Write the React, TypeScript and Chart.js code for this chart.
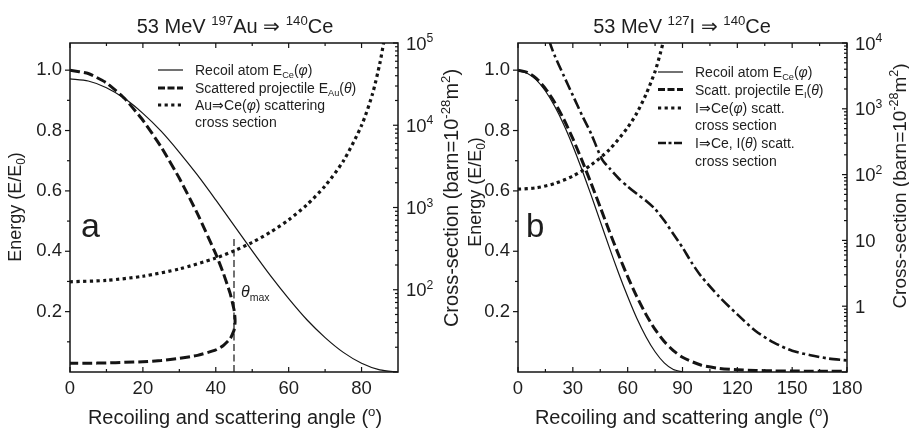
import React, { useEffect, useRef } from "react";
import { Chart, registerables } from "chart.js";

Chart.register(...registerables);

const FONT = '"Liberation Sans", Arial, Helvetica, sans-serif';
const INK = "#141414";
const TEXT = "#1e1e1e";

// ---------------- Panel a : 53 MeV 197Au => 140Ce ----------------
const aRecoilAngle = [0, 5, 10, 15, 20, 25, 30, 35, 40, 45, 50, 55, 60, 65, 70, 75, 80, 85, 90];
const aRecoilEnergy = [0.971, 0.964, 0.942, 0.906, 0.857, 0.798, 0.728, 0.652, 0.57, 0.486, 0.401, 0.319, 0.243, 0.173, 0.114, 0.065, 0.029, 0.007, 0];

const aProjAngle = [0, 5, 10, 15, 20, 25, 30, 35, 40, 42, 44, 45, 45.1, 45.25, 45.3, 45.25, 45.1, 45, 44, 42, 40, 35, 30, 25, 20, 15, 10, 5, 0];
const aProjEnergy = [1.0, 0.989, 0.958, 0.906, 0.834, 0.746, 0.642, 0.524, 0.391, 0.33, 0.258, 0.207, 0.199, 0.182, 0.169, 0.158, 0.144, 0.138, 0.111, 0.087, 0.073, 0.055, 0.045, 0.038, 0.034, 0.032, 0.03, 0.029, 0.029];

const aThetaMaxAngle = [45, 45];
const aThetaMaxEnergy = [0, 0.45];

const aXsecAngle = [0, 10, 20, 30, 40, 45, 50, 55, 60, 65, 70, 75, 80, 83, 85, 86, 87];
const aXsecValue = [125, 130, 146, 179, 243, 297, 377, 502, 707, 1080, 1830, 3670, 9950, 24000, 56000, 97000, 170000];

const aXMajor = [0, 20, 40, 60, 80];
const aXMinor = [10, 30, 50, 70];
const aXLabels = ["0", "20", "40", "60", "80"];
const aLogLabelValue = [100, 1000, 10000, 100000];
const aLogLabelBase = ["10", "10", "10", "10"];
const aLogLabelExp = ["2", "3", "4", "5"];

// ---------------- Panel b : 53 MeV 127I => 140Ce ----------------
const bRecoilAngle = [0, 5, 10, 15, 20, 25, 30, 35, 40, 45, 50, 55, 60, 65, 70, 75, 80, 85, 90];
const bRecoilEnergy = [0.998, 0.99, 0.968, 0.931, 0.881, 0.82, 0.749, 0.67, 0.586, 0.499, 0.412, 0.328, 0.25, 0.178, 0.117, 0.067, 0.03, 0.008, 0];

const bProjAngle = [0, 5, 10, 15, 20, 25, 30, 35, 40, 45, 50, 55, 60, 65, 70, 75, 80, 85, 90, 100, 110, 120, 130, 140, 150, 160, 170, 180];
const bProjEnergy = [1.0, 0.993, 0.973, 0.939, 0.894, 0.838, 0.773, 0.701, 0.625, 0.546, 0.466, 0.389, 0.316, 0.25, 0.191, 0.141, 0.101, 0.071, 0.049, 0.023, 0.012, 0.0075, 0.0051, 0.0038, 0.0031, 0.0027, 0.0024, 0.0024];

const bXsecAngle = [0, 10, 20, 30, 40, 50, 60, 65, 70, 75, 78, 80, 82];
const bXsecValue = [60, 63, 73, 95, 140, 240, 520, 860, 1650, 3700, 7200, 12000, 22000];

const bProjXsecAngle = [12, 14, 17.5, 20, 25, 30, 35, 40, 46, 50, 55, 60, 65, 70, 75, 80, 85, 90, 95, 100, 110, 120, 130, 140, 150, 160, 170, 180];
const bProjXsecValue = [45000, 25000, 10000, 6500, 3200, 1600, 800, 420, 170, 125, 88, 66, 51, 40, 30, 20, 12.5, 7.8, 4.6, 2.9, 1.4, 0.75, 0.42, 0.28, 0.21, 0.18, 0.16, 0.15];

const bXMajor = [0, 30, 60, 90, 120, 150, 180];
const bXMinor = [15, 45, 75, 105, 135, 165];
const bXLabels = ["0", "30", "60", "90", "120", "150", "180"];
const bLogLabelValue = [1, 10, 100, 1000, 10000];
const bLogLabelBase = ["1", "10", "10", "10", "10"];
const bLogLabelExp = ["", "", "2", "3", "4"];

// shared energy axis ticks
const eMajor = [0.2, 0.4, 0.6, 0.8, 1.0];
const eMinor = [0.1, 0.3, 0.5, 0.7, 0.9];
const eLabels = ["0.2", "0.4", "0.6", "0.8", "1.0"];

// ----------------------------------------------------------------
type Seg = [string, number]; // 0 normal, 1 sub, 2 sup, 3 italic, 4 italic sub

function drawRich(ctx: CanvasRenderingContext2D, segs: Seg[], x: number, y: number, size: number, align: string, rot = 0) {
  const small = size * 0.66;
  const items = segs.map(([t, m]) => {
    const fs = m === 1 || m === 2 || m === 4 ? small : size;
    const font = `${m === 3 || m === 4 ? "italic " : ""}${fs}px ${FONT}`;
    ctx.font = font;
    return { t, m, font, w: ctx.measureText(t).width };
  });
  const total = items.reduce((s, i) => s + i.w, 0);
  ctx.save();
  ctx.translate(x, y);
  if (rot) ctx.rotate(rot);
  ctx.fillStyle = TEXT;
  ctx.textBaseline = "alphabetic";
  ctx.textAlign = "left";
  let cx = align === "center" ? -total / 2 : align === "right" ? -total : 0;
  for (const it of items) {
    ctx.font = it.font;
    const dy = it.m === 1 || it.m === 4 ? size * 0.22 : it.m === 2 ? -size * 0.4 : 0;
    ctx.fillText(it.t, cx, dy);
    cx += it.w;
  }
  ctx.restore();
}

const STYLES: Record<string, { width: number; dash: number[] }> = {
  solid: { width: 1.2, dash: [] },
  dashed: { width: 3, dash: [10, 4] },
  dotted: { width: 3.2, dash: [3.2, 3.4] },
  dashdot: { width: 2.6, dash: [11, 3.5, 3, 3.5] },
  thin: { width: 1.2, dash: [7, 3.5] },
};

const pts = (xs: number[], ys: number[]) => xs.map((x, i) => ({ x, y: ys[i] }));

function ds(data: any[], style: string, axis: string, tension = 0.25) {
  const s = STYLES[style];
  return {
    data,
    yAxisID: axis,
    borderColor: INK,
    borderWidth: s.width,
    borderDash: s.dash,
    borderCapStyle: "butt",
    pointRadius: 0,
    fill: false,
    tension,
  };
}

interface LegendItem { y: number; style: string | null; segs: Seg[] }
interface PanelCfg {
  width: number;
  leftW: number;
  rightW: number;
  xMax: number;
  xStep: number;
  xMajor: number[];
  xMinor: number[];
  xLabels: string[];
  logMin: number;
  logMax: number;
  logLabelValue: number[];
  logLabelBase: string[];
  logLabelExp: string[];
  datasets: any[];
  title: Seg[];
  titleX: number;
  xTitleX: number;
  eTitle: { x: number; y: number; size: number };
  cTitle: { x: number; y: number; size: number };
  legendX: number;
  legend: LegendItem[];
  letter: { t: string; x: number; y: number; size: number };
  extra?: (ctx: CanvasRenderingContext2D, chart: any) => void;
}

function near(v: number, arr: number[]) {
  return arr.findIndex((a) => Math.abs(a - v) < 1e-6);
}

function makePlugin(cfg: PanelCfg) {
  return {
    id: "panelDeco",
    afterDatasetsDraw(chart: any) {
      const ctx: CanvasRenderingContext2D = chart.ctx;
      const ca = chart.chartArea;
      const sx = chart.scales.x;
      const sy = chart.scales.y;
      const sl = chart.scales.y2;
      ctx.save();
      ctx.setLineDash([]);
      ctx.strokeStyle = INK;
      ctx.lineWidth = 1.5;
      ctx.strokeRect(ca.left, ca.top, ca.right - ca.left, ca.bottom - ca.top);
      ctx.lineWidth = 1.2;
      const line = (x1: number, y1: number, x2: number, y2: number) => {
        ctx.beginPath();
        ctx.moveTo(x1, y1);
        ctx.lineTo(x2, y2);
        ctx.stroke();
      };
      cfg.xMajor.forEach((v) => {
        const p = sx.getPixelForValue(v);
        line(p, ca.bottom, p, ca.bottom - 5);
        line(p, ca.top, p, ca.top + 5);
      });
      cfg.xMinor.forEach((v) => {
        const p = sx.getPixelForValue(v);
        line(p, ca.bottom, p, ca.bottom - 3);
        line(p, ca.top, p, ca.top + 3);
      });
      eMajor.forEach((v) => {
        const p = sy.getPixelForValue(v);
        line(ca.left - 5, p, ca.left, p);
      });
      eMinor.forEach((v) => {
        const p = sy.getPixelForValue(v);
        line(ca.left - 3, p, ca.left, p);
      });
      for (let e = Math.floor(Math.log10(cfg.logMin)); e <= Math.ceil(Math.log10(cfg.logMax)); e++) {
        for (let k = 1; k <= 9; k++) {
          const v = k * Math.pow(10, e);
          if (v < cfg.logMin * 0.999 || v > cfg.logMax * 1.001) continue;
          const p = sl.getPixelForValue(v);
          line(ca.right, p, ca.right - (k === 1 ? 5 : 3), p);
        }
      }
      ctx.restore();

      cfg.logLabelValue.forEach((v, i) => {
        const p = sl.getPixelForValue(v);
        const segs: Seg[] = [[cfg.logLabelBase[i], 0]];
        if (cfg.logLabelExp[i]) segs.push([cfg.logLabelExp[i], 2]);
        drawRich(ctx, segs, ca.right + 8, p + 6.5, 18.5, "left");
      });

      drawRich(ctx, cfg.title, cfg.titleX, 33, 20, "center");
      drawRich(ctx, [["Recoiling and scattering angle (", 0], ["o", 2], [")", 0]], cfg.xTitleX, 424, 20, "center");
      drawRich(ctx, [["Energy (E/E", 0], ["0", 1], [")", 0]], cfg.eTitle.x + cfg.eTitle.size * 0.36, cfg.eTitle.y, cfg.eTitle.size, "center", -Math.PI / 2);
      drawRich(ctx, [["Cross-section (barn=10", 0], ["-28", 2], ["m", 0], ["2", 2], [")", 0]], cfg.cTitle.x + cfg.cTitle.size * 0.36, cfg.cTitle.y, cfg.cTitle.size, "center", -Math.PI / 2);

      const lx = cfg.legendX;
      cfg.legend.forEach((it) => {
        if (it.style) {
          const s = STYLES[it.style];
          ctx.save();
          ctx.strokeStyle = INK;
          ctx.lineWidth = s.width;
          ctx.setLineDash(it.style === "dashed" ? [7, 2.5] : it.style === "dashdot" ? [8, 2.5, 3, 2.5] : s.dash);
          ctx.beginPath();
          ctx.moveTo(lx - 37, it.y);
          ctx.lineTo(lx - 12, it.y);
          ctx.stroke();
          ctx.restore();
        }
        drawRich(ctx, it.segs, lx, it.y + 5, 14, "left");
      });

      ctx.save();
      ctx.fillStyle = TEXT;
      ctx.font = `${cfg.letter.size}px ${FONT}`;
      ctx.textBaseline = "alphabetic";
      ctx.fillText(cfg.letter.t, cfg.letter.x, cfg.letter.y);
      ctx.restore();

      if (cfg.extra) cfg.extra(ctx, chart);
    },
  };
}

function Panel({ cfg, left }: { cfg: PanelCfg; left: number }) {
  const ref = useRef<HTMLCanvasElement>(null);
  useEffect(() => {
    const canvas = ref.current!;
    const chart = new Chart(canvas, {
      type: "line",
      data: { datasets: cfg.datasets },
      options: {
        animation: false,
        responsive: false,
        maintainAspectRatio: false,
        devicePixelRatio: 1,
        layout: { padding: { top: 43, left: 0, right: 0, bottom: 0 } },
        plugins: { legend: { display: false }, tooltip: { enabled: false }, title: { display: false } },
        scales: {
          x: {
            type: "linear",
            min: 0,
            max: cfg.xMax,
            grid: { display: false, drawTicks: false },
            border: { display: false },
            ticks: {
              stepSize: cfg.xStep,
              autoSkip: false,
              maxRotation: 0,
              padding: 6,
              color: TEXT,
              font: { family: FONT, size: 18.5 },
              callback: (v: any) => {
                const i = near(Number(v), cfg.xMajor);
                return i >= 0 ? cfg.xLabels[i] : "";
              },
            },
            afterFit: (s: any) => {
              s.height = 58;
            },
          },
          y: {
            type: "linear",
            position: "left",
            min: 0,
            max: 1.09,
            grid: { display: false, drawTicks: false },
            border: { display: false },
            ticks: {
              stepSize: 0.1,
              autoSkip: false,
              padding: 8,
              color: TEXT,
              font: { family: FONT, size: 18.5 },
              callback: (v: any) => {
                const i = near(Number(v), eMajor);
                return i >= 0 ? eLabels[i] : "";
              },
            },
            afterFit: (s: any) => {
              s.width = cfg.leftW;
            },
          },
          y2: {
            type: "logarithmic",
            position: "right",
            min: cfg.logMin,
            max: cfg.logMax,
            grid: { display: false, drawTicks: false },
            border: { display: false },
            ticks: { display: false },
            afterFit: (s: any) => {
              s.width = cfg.rightW;
            },
          },
        },
      } as any,
      plugins: [makePlugin(cfg)],
    });
    return () => chart.destroy();
  }, []);
  return (
    <div style={{ position: "absolute", left, top: 0, width: cfg.width, height: 430 }}>
      <canvas ref={ref} width={cfg.width} height={430} style={{ display: "block" }} />
    </div>
  );
}

const cfgA: PanelCfg = {
  width: 475,
  leftW: 70,
  rightW: 77,
  xMax: 90,
  xStep: 10,
  xMajor: aXMajor,
  xMinor: aXMinor,
  xLabels: aXLabels,
  logMin: 10,
  logMax: 100000,
  logLabelValue: aLogLabelValue,
  logLabelBase: aLogLabelBase,
  logLabelExp: aLogLabelExp,
  datasets: [
    ds(pts(aRecoilAngle, aRecoilEnergy), "solid", "y"),
    ds(pts(aProjAngle, aProjEnergy), "dashed", "y", 0.15),
    ds(pts(aThetaMaxAngle, aThetaMaxEnergy), "thin", "y", 0),
    ds(pts(aXsecAngle, aXsecValue), "dotted", "y2"),
  ],
  title: [["53 MeV ", 0], ["197", 2], ["Au ⇒ ", 0], ["140", 2], ["Ce", 0]],
  titleX: 235,
  xTitleX: 235,
  eTitle: { x: 15, y: 207, size: 18 },
  cTitle: { x: 451, y: 198, size: 20 },
  legendX: 195,
  legend: [
    { y: 70, style: "solid", segs: [["Recoil atom E", 0], ["Ce", 1], ["(", 0], ["φ", 3], [")", 0]] },
    { y: 88, style: "dashed", segs: [["Scattered projectile E", 0], ["Au", 1], ["(", 0], ["θ", 3], [")", 0]] },
    { y: 105, style: "dotted", segs: [["Au⇒Ce(", 0], ["φ", 3], [") scattering", 0]] },
    { y: 122, style: null, segs: [["cross section", 0]] },
  ],
  letter: { t: "a", x: 81, y: 237, size: 34 },
  extra: (ctx) => {
    drawRich(ctx, [["θ", 3], ["max", 1]], 241, 297, 16, "left");
  },
};

const cfgB: PanelCfg = {
  width: 454,
  leftW: 63,
  rightW: 62,
  xMax: 180,
  xStep: 15,
  xMajor: bXMajor,
  xMinor: bXMinor,
  xLabels: bXLabels,
  logMin: 0.1,
  logMax: 10000,
  logLabelValue: bLogLabelValue,
  logLabelBase: bLogLabelBase,
  logLabelExp: bLogLabelExp,
  datasets: [
    ds(pts(bRecoilAngle, bRecoilEnergy), "solid", "y"),
    ds(pts(bProjAngle, bProjEnergy), "dashed", "y"),
    ds(pts(bXsecAngle, bXsecValue), "dotted", "y2"),
    ds(pts(bProjXsecAngle, bProjXsecValue), "dashdot", "y2"),
  ],
  title: [["53 MeV ", 0], ["127", 2], ["I ⇒ ", 0], ["140", 2], ["Ce", 0]],
  titleX: 682 - 455,
  xTitleX: 682 - 455,
  eTitle: { x: 475 - 455, y: 192, size: 18 },
  cTitle: { x: 899 - 455, y: 186, size: 19 },
  legendX: 695 - 455,
  legend: [
    { y: 72, style: "solid", segs: [["Recoil atom E", 0], ["Ce", 1], ["(", 0], ["φ", 3], [")", 0]] },
    { y: 89.5, style: "dashed", segs: [["Scatt. projectile E", 0], ["I", 1], ["(", 0], ["θ", 3], [")", 0]] },
    { y: 108, style: "dotted", segs: [["I⇒Ce(", 0], ["φ", 3], [") scatt.", 0]] },
    { y: 125, style: null, segs: [["cross section", 0]] },
    { y: 143, style: "dashdot", segs: [["I⇒Ce, I(", 0], ["θ", 3], [") scatt.", 0]] },
    { y: 161, style: null, segs: [["cross section", 0]] },
  ],
  letter: { t: "b", x: 526 - 455, y: 237, size: 33 },
};

export default function App() {
  return (
    <div style={{ position: "absolute", left: 0, top: 0, width: 909, height: 430, background: "#fff" }}>
      <Panel cfg={cfgA} left={0} />
      <Panel cfg={cfgB} left={455} />
    </div>
  );
}
